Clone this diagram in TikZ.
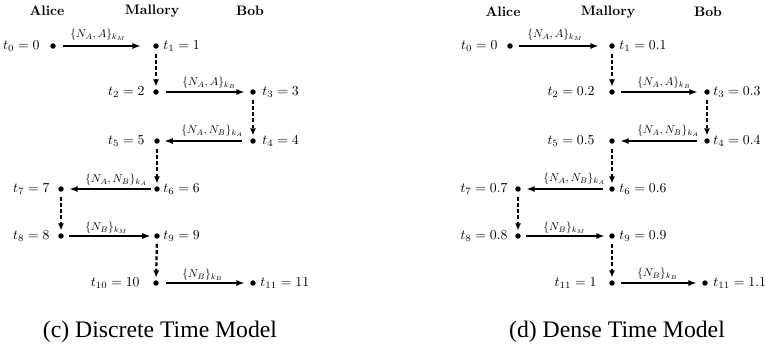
\documentclass[tikz,border=0pt]{standalone}
\usepackage{fontspec}
\usepackage{graphicx}
\newfontfamily\capfont{Liberation Serif}
\usetikzlibrary{arrows.meta}
\newcommand\tlab[1]{\scalebox{0.58}{#1}}
\newcommand\mlab[1]{\scalebox{0.48}{#1}}
\begin{document}
\begin{tikzpicture}[x=0.422pt,y=-0.422pt,
  dot/.style={circle,fill=black,inner sep=0pt,minimum size=2.3pt},
  tl/.style={inner sep=0pt},
  msg/.style={inner sep=0pt,anchor=west},
  send/.style={line width=0.85pt,-{Latex[length=3.6pt,width=2.6pt]}},
  wait/.style={line width=0.95pt,dash pattern=on 1.6pt off 1.0pt,-{Latex[length=3pt,width=2.6pt]},shorten <=2pt,shorten >=1pt},
  captext/.style={inner sep=0pt}]
\useasboundingbox (0,0) rectangle (765,348);
% ---------------- left panel ----------------
\node[tl] (lhA) at (47,11) {\tlab{\bfseries Alice}};
\node[tl] (lhM) at (152,11) {\tlab{\bfseries Mallory}};
\node[tl] (lhB) at (250,11) {\tlab{\bfseries Bob}};
\node[dot] (lA0) at (53,46) {};
\node[dot] (lM1) at (156,46) {};
\node[dot] (lM2) at (156,92) {};
\node[dot] (lB3) at (253,92) {};
\node[dot] (lB4) at (253,141) {};
\node[dot] (lM5) at (157,141) {};
\node[dot] (lM6) at (157,189) {};
\node[dot] (lA7) at (61,189) {};
\node[dot] (lA8) at (61,236) {};
\node[dot] (lM9) at (157,236) {};
\node[dot] (lM10) at (156,283) {};
\node[dot] (lB11) at (253,283) {};
\node[tl,anchor=east] (lt0) at (40,46) {\tlab{$t_0 = 0$}};
\node[tl,anchor=west] (lt1) at (163,46) {\tlab{$t_1 = 1$}};
\node[tl,anchor=east] (lt2) at (145,92) {\tlab{$t_2 = 2$}};
\node[tl,anchor=west] (lt3) at (262,92) {\tlab{$t_3 = 3$}};
\node[tl,anchor=west] (lt4) at (262,141) {\tlab{$t_4 = 4$}};
\node[tl,anchor=east] (lt5) at (145,141) {\tlab{$t_5 = 5$}};
\node[tl,anchor=west] (lt6) at (163,189) {\tlab{$t_6 = 6$}};
\node[tl,anchor=east] (lt7) at (50,189) {\tlab{$t_7 = 7$}};
\node[tl,anchor=east] (lt8) at (50,236) {\tlab{$t_8 = 8$}};
\node[tl,anchor=west] (lt9) at (163,236) {\tlab{$t_9 = 9$}};
\node[tl,anchor=east] (lt10) at (140,283) {\tlab{$t_{10} = 10$}};
\node[tl,anchor=west] (lt11) at (260,283) {\tlab{$t_{11} = 11$}};
\node[msg] (lm01) at (70,35) {\mlab{$\{N_A, A\}_{k_M}$}};
\node[msg] (lm23) at (182,83) {\mlab{$\{N_A, A\}_{k_B}$}};
\node[msg] (lm45) at (181,131) {\mlab{$\{N_A, N_B\}_{k_A}$}};
\node[msg] (lm67) at (85,180) {\mlab{$\{N_A, N_B\}_{k_A}$}};
\node[msg] (lm89) at (85,228) {\mlab{$\{N_B\}_{k_M}$}};
\node[msg] (lm1011) at (182,275) {\mlab{$\{N_B\}_{k_B}$}};
\draw[send,shorten <=3pt,shorten >=5pt] (lA0) -- (lM1);
\draw[send,shorten <=3pt,shorten >=2.1pt] (lM2) -- (lB3);
\draw[send,shorten <=3.4pt,shorten >=1.7pt] (lB4) -- (lM5);
\draw[send,shorten <=1.3pt,shorten >=2.1pt] (lM6) -- (lA7);
\draw[send,shorten <=2.1pt,shorten >=1.3pt] (lA8) -- (lM9);
\draw[send,shorten <=3pt,shorten >=2.1pt] (lM10) -- (lB11);
\draw[wait] (lM1) -- (lM2);
\draw[wait] (lB3) -- (lB4);
\draw[wait] (lM5) -- (lM6);
\draw[wait] (lA7) -- (lA8);
\draw[wait] (lM9) -- (lM10);
\node[captext] (lcap) at (160,332) {\capfont\fontsize{10}{12}\selectfont (c) Discrete Time Model};
% ---------------- right panel ----------------
\node[tl] (rhA) at (503,12) {\tlab{\bfseries Alice}};
\node[tl] (rhM) at (608,12) {\tlab{\bfseries Mallory}};
\node[tl] (rhB) at (708,12) {\tlab{\bfseries Bob}};
\node[dot] (rA0) at (510,46) {};
\node[dot] (rM1) at (612,46) {};
\node[dot] (rM2) at (612,92) {};
\node[dot] (rB3) at (707,92) {};
\node[dot] (rB4) at (707,141) {};
\node[dot] (rM5) at (612,141) {};
\node[dot] (rM6) at (612,189) {};
\node[dot] (rA7) at (518,189) {};
\node[dot] (rA8) at (518,236) {};
\node[dot] (rM9) at (612,236) {};
\node[dot] (rM10) at (612,283) {};
\node[dot] (rB11) at (705,283) {};
\node[tl,anchor=east] (rt0) at (498,46) {\tlab{$t_0 = 0$}};
\node[tl,anchor=west] (rt1) at (619,46) {\tlab{$t_1 = 0.1$}};
\node[tl,anchor=east] (rt2) at (595,92) {\tlab{$t_2 = 0.2$}};
\node[tl,anchor=west] (rt3) at (713,92) {\tlab{$t_3 = 0.3$}};
\node[tl,anchor=west] (rt4) at (713,141) {\tlab{$t_4 = 0.4$}};
\node[tl,anchor=east] (rt5) at (595,141) {\tlab{$t_5 = 0.5$}};
\node[tl,anchor=west] (rt6) at (619,189) {\tlab{$t_6 = 0.6$}};
\node[tl,anchor=east] (rt7) at (508,189) {\tlab{$t_7 = 0.7$}};
\node[tl,anchor=east] (rt8) at (508,236) {\tlab{$t_8 = 0.8$}};
\node[tl,anchor=west] (rt9) at (619,236) {\tlab{$t_9 = 0.9$}};
\node[tl,anchor=east] (rt10) at (597,283) {\tlab{$t_{11} = 1$}};
\node[tl,anchor=west] (rt11) at (713,283) {\tlab{$t_{11} = 1.1$}};
\node[msg] (rm01) at (527,35) {\mlab{$\{N_A, A\}_{k_M}$}};
\node[msg] (rm23) at (637,83) {\mlab{$\{N_A, A\}_{k_B}$}};
\node[msg] (rm45) at (637,131) {\mlab{$\{N_A, N_B\}_{k_A}$}};
\node[msg] (rm67) at (543,179) {\mlab{$\{N_A, N_B\}_{k_A}$}};
\node[msg] (rm89) at (543,228) {\mlab{$\{N_B\}_{k_M}$}};
\node[msg] (rm1011) at (637,274) {\mlab{$\{N_B\}_{k_B}$}};
\draw[send,shorten <=2.5pt,shorten >=4.2pt] (rA0) -- (rM1);
\draw[send,shorten <=2.5pt,shorten >=2.5pt] (rM2) -- (rB3);
\draw[send,shorten <=3pt,shorten >=2.1pt] (rB4) -- (rM5);
\draw[send,shorten <=2.5pt,shorten >=2.1pt] (rM6) -- (rA7);
\draw[send,shorten <=2.1pt,shorten >=1.7pt] (rA8) -- (rM9);
\draw[send,shorten <=2.5pt,shorten >=2.1pt] (rM10) -- (rB11);
\draw[wait] (rM1) -- (rM2);
\draw[wait] (rB3) -- (rB4);
\draw[wait] (rM5) -- (rM6);
\draw[wait] (rA7) -- (rA8);
\draw[wait] (rM9) -- (rM10);
\node[captext] (rcap) at (617,332) {\capfont\fontsize{10}{12}\selectfont (d) Dense Time Model};
\end{tikzpicture}
\end{document}
